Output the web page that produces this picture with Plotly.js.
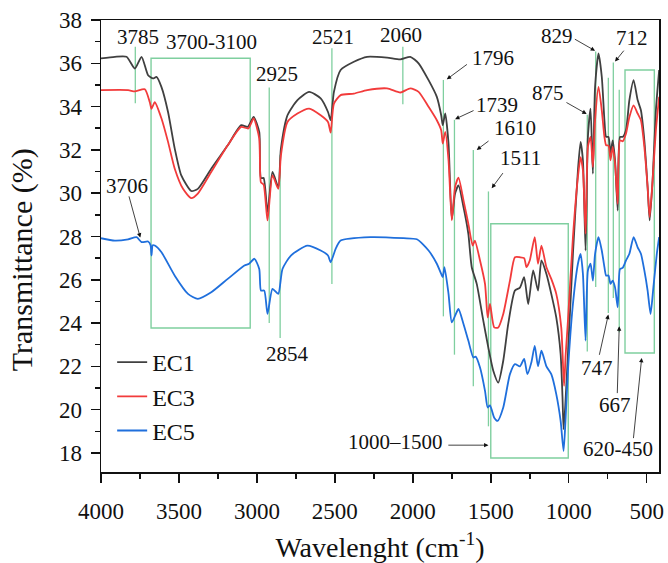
<!DOCTYPE html>
<html>
<head>
<meta charset="utf-8">
<script src="https://cdn.plot.ly/plotly-3.0.1.min.js"></script>
<style>html,body{margin:0;padding:0;background:#fff;}#chart{width:668px;height:563px;}</style>
</head>
<body>
<div id="chart"></div>
<script>
// ---- data ----
const ec1X = [4000,3911,3836,3783,3740,3698,3666,3644,3612,3570,3527,3485,3421,3379,3293,3187,3101,3059,3021,2985,2974,2957,2932,2900,2863,2846,2804,2740,2665,2591,2544,2527,2506,2463,2378,2293,2165,2080,2016,1963,1899,1846,1818,1808,1792,1771,1750,1729,1707,1675,1644,1622,1590,1548,1516,1484,1452,1420,1388,1345,1313,1286,1260,1228,1197,1175,1143,1112,1080,1052,1040,1033,1022,1005,973,941,924,909,892,877,860,845,831,809,788,771,760,745,732,718,703,686,671,654,633,611,584,558,537,515,494,481,462,441,420];
const ec1Y = [36.23,36.30,36.30,35.76,36.30,35.45,35.30,35.37,34.90,33.75,32.06,30.82,30.10,30.20,31.13,32.21,33.14,33.06,33.52,32.83,30.70,30.70,29.13,30.98,30.28,32.06,33.60,34.30,34.68,34.38,33.75,33.37,34.68,35.69,36.07,36.30,36.26,36.18,36.30,36.00,35.22,34.45,33.60,33.14,33.68,32.29,28.80,29.98,30.36,29.36,28.13,26.58,25.81,24.11,22.88,21.80,21.25,22.26,23.96,25.50,25.64,26.12,24.88,26.43,25.50,26.89,26.27,25.35,24.26,22.57,20.60,19.10,20.20,22.57,27.20,31.06,32.37,31.52,27.35,32.60,33.91,30.90,34.91,36.46,35.38,33.37,32.60,32.60,31.83,32.44,31.52,29.20,32.60,32.60,32.91,34.30,35.22,34.30,33.83,32.44,30.28,28.74,30.59,33.83,35.69];

const ec3X = [4000,3826,3783,3719,3687,3676,3655,3612,3570,3527,3474,3421,3379,3293,3187,3101,3055,3021,2985,2974,2957,2932,2900,2863,2846,2804,2740,2665,2591,2544,2527,2506,2463,2378,2293,2165,2080,2016,1963,1899,1846,1818,1808,1792,1771,1750,1729,1707,1675,1644,1616,1602,1569,1537,1520,1505,1478,1452,1420,1377,1345,1313,1286,1271,1250,1218,1197,1175,1143,1112,1080,1048,1030,1020,1005,973,941,924,909,892,877,860,845,831,809,788,771,760,745,732,718,703,686,671,654,633,611,584,558,537,515,494,481,462,441,420];
const ec3Y = [34.76,34.76,34.70,34.80,34.20,33.90,34.20,33.45,32.37,31.13,30.20,29.77,29.98,30.98,32.21,33.06,32.99,33.45,32.52,30.50,30.40,28.74,30.82,30.20,31.75,33.29,33.68,33.91,33.60,33.29,32.80,34.14,34.53,34.60,34.76,34.84,34.65,34.84,34.68,33.99,33.37,32.91,32.29,32.83,31.52,28.74,30.28,30.72,29.67,28.59,27.58,27.81,26.89,25.81,24.26,24.88,23.80,23.80,24.42,25.96,27.04,27.04,27.00,26.58,26.89,27.97,26.74,27.58,26.58,26.04,25.35,23.80,21.10,22.50,24.11,27.97,30.75,31.67,31.06,28.13,32.14,32.60,31.21,33.37,34.91,33.83,32.60,32.21,32.20,31.52,32.14,31.37,29.51,32.44,32.40,32.75,33.52,34.06,33.68,33.37,32.14,30.28,28.90,30.59,32.91,34.45];

const ec5X = [4000,3911,3826,3772,3740,3698,3682,3676,3668,3655,3612,3527,3442,3379,3293,3187,3080,3050,3016,2985,2974,2953,2932,2900,2863,2836,2782,2676,2591,2544,2527,2495,2463,2272,2059,1974,1899,1846,1818,1808,1797,1771,1750,1724,1707,1675,1644,1612,1597,1569,1537,1520,1505,1478,1456,1420,1377,1345,1313,1286,1265,1239,1218,1197,1175,1143,1112,1080,1052,1033,1020,1005,973,941,924,909,892,877,860,845,831,809,788,771,760,745,732,718,703,686,671,654,633,611,584,558,537,515,494,475,457,435,420];
const ec5Y = [27.92,27.81,27.87,27.97,27.74,27.77,27.60,27.12,27.60,27.58,27.27,26.19,25.35,25.12,25.42,26.04,26.66,26.74,26.97,26.50,25.50,25.50,24.42,25.58,25.35,26.50,27.12,27.58,27.35,27.12,26.81,27.43,27.81,27.97,27.92,27.87,27.35,26.74,26.27,26.12,26.58,25.35,24.03,24.42,24.65,23.96,23.19,22.41,22.45,21.95,20.87,20.10,20.20,19.63,19.48,20.10,21.64,22.10,22.00,22.34,21.64,22.20,22.95,22.00,22.72,22.00,21.64,20.72,19.48,18.09,19.60,21.80,24.88,26.74,27.20,26.27,23.19,26.43,26.74,25.96,27.20,27.97,27.35,26.58,26.19,26.20,25.81,25.96,25.65,24.73,26.50,26.55,26.89,27.20,27.97,27.50,27.20,26.43,25.50,24.42,25.65,27.20,27.97];

const seriesNames = ['EC1','EC3','EC5'];
const xTickVals = [4000,3500,3000,2500,2000,1500,1000,500];
const yTickVals = [18,20,22,24,26,28,30,32,34,36,38];

// ---- annotation geometry (positions, not data) ----
const green = '#7fcf9f';
const markerLines = [ // [x, y0, y1]
  [3780,36.77,34.16],[2921,34.88,24.0],[2851,31.77,23.31],[2519,36.69,25.8],[2064,36.77,34.11],
  [1804,35.23,24.31],[1733,33.39,22.54],[1612,32.0,21.08],[1515,30.08,19.23],
  [881,33.62,22.69],[827,36.55,25.67],[746,35.33,24.46],[714,36.04,25.16],[676,34.78,23.57]
];
const boxes = [ // [x0, x1, y0, y1]
  [3679,3043,23.77,36.23],[1500,1003,17.77,28.59],[639,451,22.62,35.69]
];
const labels = [ // [text, x, y]
  ['3785',3761,37.23],['3700-3100',3293,36.98],['2925',2872,35.49],['2521',2509,37.23],
  ['2060',2077,37.31],['2854',2804,22.59],['1796',1487,36.23],['1739',1462,34.08],
  ['1610',1344,33.0],['1511',1308,31.62],['875',1131,34.62],['829',1077,37.26],
  ['712',592,37.16],['747',817,21.93],['667',703,20.23],['620-450',682,18.16],
  ['1000\u20131500',2113,18.49],['3706',3833,30.35]
];
const arrows = [ // [headX, headY, ax(px), ay(px)]
  [1782,35.26,21.6,-16],[1729,33.42,20,-9.3],[1590,32.0,13.3,-10],[1494,30.23,12.3,-16.6],
  [885,33.66,-21.7,-12.3],[831,36.58,-21.7,-12.4],[703,36.08,10,-12.4],
  [746,24.39,-9.3,41.7],[676,23.85,-2,68.3],[532,22.39,-8.4,81.7],
  [1515,18.36,-41.6,0],[3748,27.95,-11.7,-42.7]
];

const font = 'Liberation Serif, Times New Roman, serif';
const colors = ['#404040','#f23b3b','#1f6fdc'];
const xs = [ec1X, ec3X, ec5X], ys = [ec1Y, ec3Y, ec5Y];
const traces = seriesNames.map((n,i)=>({
  x: xs[i], y: ys[i], name: n, type: 'scatter', mode: 'lines',
  line: {color: colors[i], width: 1.8, shape: 'spline', smoothing: 0.6}
}));

const shapes = [];
markerLines.forEach(l=>shapes.push({type:'line',xref:'x',yref:'y',x0:l[0],x1:l[0],y0:l[1],y1:l[2],line:{color:green,width:1.3},layer:'below'}));
boxes.forEach(b=>shapes.push({type:'rect',xref:'x',yref:'y',x0:b[0],x1:b[1],y0:b[2],y1:b[3],line:{color:green,width:1.4},layer:'below'}));

const annotations = [];
labels.forEach(t=>annotations.push({text:t[0],x:t[1],y:t[2],xref:'x',yref:'y',showarrow:false,font:{family:font,size:21,color:'#111'}}));
arrows.forEach(a=>annotations.push({text:'',x:a[0],y:a[1],xref:'x',yref:'y',showarrow:true,ax:a[2],ay:a[3],arrowhead:2,arrowsize:1.1,arrowwidth:0.8,arrowcolor:'#111'}));
// y axis title (placed as in the reference, slightly below the plot centre)
annotations.push({text:'Transmittance (%)', xref:'paper', yref:'paper', x:-0.141, y:0.469, textangle:-90,
  showarrow:false, xanchor:'center', yanchor:'middle', font:{family:font,size:30,color:'#111'}});

const layout = {
  width: 668, height: 563,
  margin: {l:101, r:9, t:20, b:91},
  paper_bgcolor:'#fff', plot_bgcolor:'#fff',
  font: {family: font, color:'#111'},
  showlegend: true,
  legend: {x:0.02, y:0.292, xanchor:'left', yanchor:'top', bgcolor:'rgba(0,0,0,0)', font:{family:font,size:24,color:'#111'}, tracegroupgap:0},
  xaxis: {
    range:[4000,421], autorange:false, showgrid:false, zeroline:false,
    showline:true, linecolor:'#111', linewidth:1.5, mirror:true,
    ticks:'outside', ticklen:9, tickwidth:1.5, tickcolor:'#111',
    tickvals: xTickVals, ticktext: xTickVals.map(String),
    minor:{ticks:'outside', ticklen:5, tickwidth:1.5, tickcolor:'#111', dtick:250, tick0:0},
    tickfont:{family:font,size:23,color:'#111'}, ticklabelstandoff:9,
    title:{text:'Wavelenght (cm<sup>-1</sup>)', font:{family:font,size:28,color:'#111'}, standoff:16}
  },
  yaxis: {
    range:[17.12,38], autorange:false, showgrid:false, zeroline:false,
    showline:true, linecolor:'#111', linewidth:1.5, mirror:true,
    ticks:'outside', ticklen:9, tickwidth:1.5, tickcolor:'#111',
    tickvals: yTickVals, ticktext: yTickVals.map(String),
    minor:{ticks:'outside', ticklen:5, tickwidth:1.5, tickcolor:'#111', dtick:1, tick0:0},
    tickfont:{family:font,size:23,color:'#111'}, ticklabelstandoff:4
  },
  shapes: shapes,
  annotations: annotations
};

Plotly.newPlot('chart', traces, layout, {displayModeBar:false, staticPlot:true});
</script>
</body>
</html>
